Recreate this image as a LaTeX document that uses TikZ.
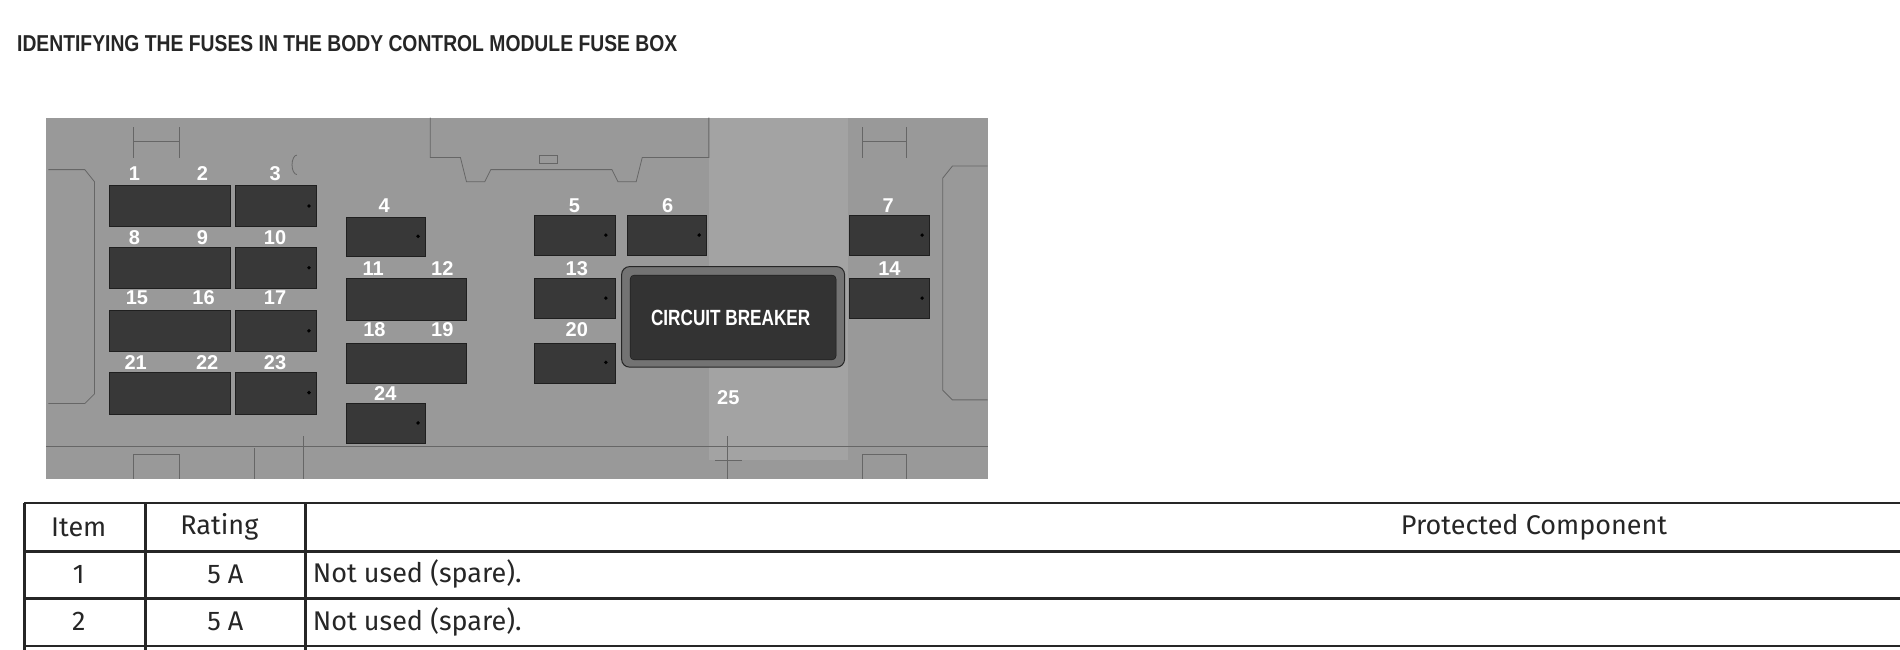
\documentclass[tikz,border=0pt]{standalone}
\usepackage{fontspec}
\setmainfont{Liberation Sans}
\newfontfamily\tabfont{Fira Sans}
\begin{document}
\begin{tikzpicture}[x=1.2117pt,y=-1.2117pt,
  fuse/.style={fill=black!78,draw=black!88,line width=0.8pt},
  lab/.style={text=white,font=\fontsize{20}{20}\selectfont\bfseries,inner sep=0pt},
  deco/.style={draw=black!60,line width=0.8pt},
  tline/.style={draw=black!85,line width=2.6pt},
  cell/.style={font=\tabfont\fontsize{27}{27}\selectfont,text=black!85,inner sep=0pt}]
\useasboundingbox (0,0) rectangle (1568,536.4);
\fill[white] (0,0) rectangle (1568,536.4);
% title
\node[anchor=west,inner sep=0pt,font=\fontsize{23}{23}\selectfont\bfseries,text=black!85,xscale=0.84] (title) at (14,36) {IDENTIFYING THE FUSES IN THE BODY CONTROL MODULE FUSE BOX};
% fuse box body
\fill[black!40] (38,97) rectangle (815,395);
\fill[black!36] (585,97) rectangle (700,380);
% decorations
\draw[deco] (40,140) -- (70,140) -- (78,150) -- (78,325) -- (70,333) -- (40,333);
\draw[deco] (815,137) -- (786,137) -- (778,147) -- (778,322) -- (786,330) -- (815,330);
\draw[deco] (355,97) -- (355,130) -- (380,130) -- (385,150) -- (400,150) -- (405,140) -- (505,140) -- (510,150) -- (525,150) -- (530,130) -- (585,130) -- (585,97);
\draw[deco] (445,128) rectangle (460,135);
\draw[deco] (110,105) -- (110,130) (110,117) -- (148,117) (148,105) -- (148,130);
\draw[deco] (712,105) -- (712,130) (712,117) -- (748,117) (748,105) -- (748,130);
\draw[deco] (245,128) arc (-90:90:-4 and 8);
\draw[deco] (38,368) -- (815,368);
\draw[deco] (110,395) -- (110,375) -- (148,375) -- (148,395);
\draw[deco] (712,395) -- (712,375) -- (748,375) -- (748,395);
\draw[deco] (210,395) -- (210,370) (250,395) -- (250,360);
\draw[deco] (600,395) -- (600,360) (590,380) -- (612,380);
% fuses
\draw[fuse] (90,153) rectangle (190,187); \draw[fuse] (194,153) rectangle (261,187);
\draw[fuse] (90,204) rectangle (190,238); \draw[fuse] (194,204) rectangle (261,238);
\draw[fuse] (90,256) rectangle (190,290); \draw[fuse] (194,256) rectangle (261,290);
\draw[fuse] (90,307) rectangle (190,342); \draw[fuse] (194,307) rectangle (261,342);
\draw[fuse] (286,179) rectangle (351,212);
\draw[fuse] (286,230) rectangle (385,264);
\draw[fuse] (286,283) rectangle (385,316);
\draw[fuse] (286,333) rectangle (351,366);
\draw[fuse] (441,178) rectangle (508,211); \draw[fuse] (518,178) rectangle (583,211);
\draw[fuse] (441,230) rectangle (508,263);
\draw[fuse] (441,283) rectangle (508,316);
\draw[fuse] (701,178) rectangle (767,211);
\draw[fuse] (701,230) rectangle (767,263);
\foreach \x/\y in {255/170,255/221,255/273,255/324,345/195,345/349,500/194,577/194,500/246,500/299,761/194,761/246}
  \fill[black] (\x,\y) circle (1.6);
\foreach \y in {170,221,273,324,247,299}{}
% circuit breaker
\draw[fill=black!55,draw=black!85,line width=1pt,rounded corners=8] (513,220) rectangle (697,303);
\draw[fill=black!80,draw=black!90,rounded corners=4] (520,227) rectangle (690,297);
\node[text=white,font=\fontsize{22}{22}\selectfont\bfseries,xscale=0.78,inner sep=0pt] (cb) at (603,262) {CIRCUIT BREAKER};
% labels
\foreach \n/\x/\y in {1/111/143,2/167/143,3/227/143,8/111/196,9/167/196,10/227/196,
  15/113/246,16/168/246,17/227/246,21/112/299,22/171/299,23/227/299,
  4/317/170,11/308/222,12/365/222,18/309/272,19/365/272,24/318/325,
  5/474/170,6/551/170,13/476/222,20/476/272,25/601/328,7/733/170,14/734/222}
  \node[lab] (f\n) at (\x,\y) {\n};
% table
\draw[tline] (20,415) -- (1568,415);
\draw[tline] (20,455) -- (1568,455);
\draw[tline] (20,494) -- (1568,494);
\draw[tline] (20,533) -- (1568,533);
\draw[tline] (20,415) -- (20,536.4);
\draw[tline] (120,415) -- (120,536.4);
\draw[tline] (252,415) -- (252,536.4);
\node[cell] (hitem) at (65,435) {Item};
\node[cell] (hrating) at (181,435) {Rating};
\node[cell] (hcomp) at (1266,435) {Protected Component};
\node[cell] (i1) at (65,474) {1};
\node[cell] (r1) at (186,474) {5 A};
\node[cell,anchor=west] (c1) at (258,474) {Not used (spare).};
\node[cell] (i2) at (65,513) {2};
\node[cell] (r2) at (186,513) {5 A};
\node[cell,anchor=west] (c2) at (258,513) {Not used (spare).};
\end{tikzpicture}
\end{document}
